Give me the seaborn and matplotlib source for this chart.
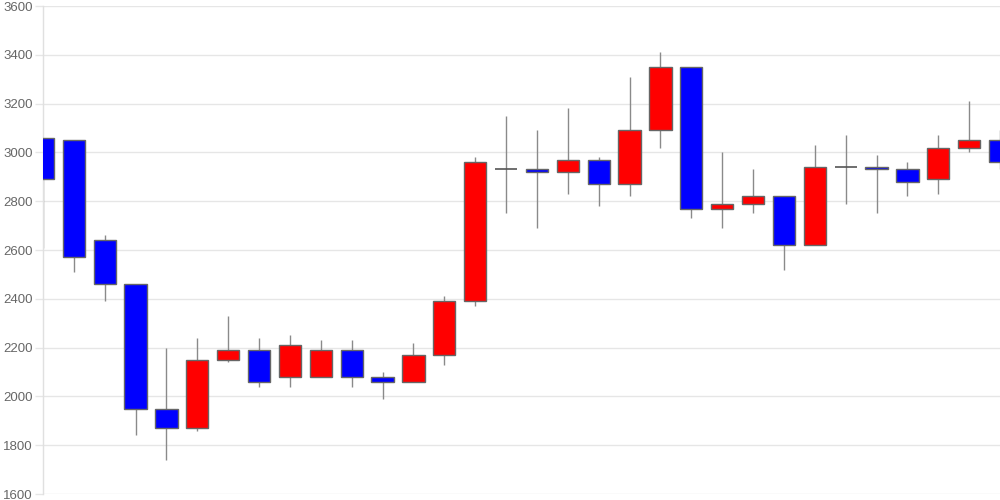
import numpy as np
import pandas as pd
import matplotlib
matplotlib.use("Agg")
import matplotlib.pyplot as plt
import seaborn as sns

# daily candles (open, close, high, low)
opens = [3060, 3050, 2640, 2460, 1950, 1870, 2150, 2190, 2080, 2080, 2190, 2080,
         2060, 2170, 2390, 2930, 2930, 2920, 2970, 2870, 3090, 3350, 2770, 2790,
         2820, 2620, 2940, 2940, 2930, 2890, 3020, 3050]
closes = [2890, 2570, 2460, 1950, 1870, 2150, 2190, 2060, 2210, 2190, 2080, 2060,
          2170, 2390, 2960, 2930, 2920, 2970, 2870, 3090, 3350, 2770, 2790, 2820,
          2620, 2940, 2940, 2930, 2880, 3020, 3050, 2960]
highs = [3060, 3050, 2660, 2460, 2200, 2240, 2330, 2240, 2250, 2230, 2230, 2100,
         2220, 2410, 2980, 3150, 3090, 3180, 2980, 3310, 3410, 3350, 3000, 2930,
         2820, 3030, 3070, 2990, 2960, 3070, 3210, 3090]
lows = [2610, 2510, 2390, 1840, 1740, 1860, 2140, 2040, 2040, 2080, 2040, 1990,
        2060, 2130, 2370, 2750, 2690, 2830, 2780, 2820, 3020, 2730, 2690, 2750,
        2520, 2620, 2790, 2750, 2820, 2830, 3000, 2930]

y_ticks = [1600, 1800, 2000, 2200, 2400, 2600, 2800, 3000, 3200, 3400, 3600]

df = pd.DataFrame({"open": opens, "close": closes, "high": highs, "low": lows})
df["day"] = np.arange(len(df))

sns.set_theme(style="whitegrid")
plt.rcParams["font.family"] = ["Liberation Sans", "DejaVu Sans"]

fig = plt.figure(figsize=(10, 5), dpi=100)
ax = fig.add_axes([0.043, 0.012, 0.957, 0.976])

# wicks
ax.vlines(df["day"], df["low"], df["high"], color="#8a8a8a", linewidth=1, zorder=2)

up = df[df["close"] > df["open"]]
down = df[df["close"] < df["open"]]
flat = df[df["close"] == df["open"]]

w = 0.72
ax.bar(up["day"], up["close"] - up["open"], bottom=up["open"], width=w,
       color="#ff0000", edgecolor="#666666", linewidth=1, zorder=3)
ax.bar(down["day"], down["open"] - down["close"], bottom=down["close"], width=w,
       color="#0000ff", edgecolor="#666666", linewidth=1, zorder=3)
ax.hlines(flat["open"], flat["day"] - w / 2, flat["day"] + w / 2,
          color="#555555", linewidth=1.2, zorder=3)

ax.set_xlim(0, len(df) - 1)
ax.set_ylim(1600, 3600)
ax.set_yticks(y_ticks)
ax.set_xticks([])
ax.grid(axis="y", color="#e6e6e6", linewidth=1)
ax.grid(axis="x", visible=False)
ax.tick_params(axis="y", labelsize=9.5, labelcolor="#666666", color="#e6e6e6",
               length=6, width=1, pad=1.5, left=True)
for side in ["top", "right", "bottom"]:
    ax.spines[side].set_visible(False)
ax.spines["left"].set_color("#e0e0e0")
ax.spines["left"].set_linewidth(1)
ax.set_facecolor("white")

fig.savefig("out.png", dpi=100, facecolor="white")
